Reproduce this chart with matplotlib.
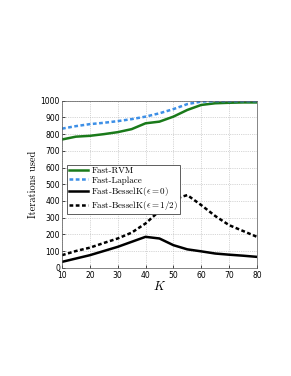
import matplotlib
matplotlib.use("Agg")
from matplotlib import pyplot as plt

plt.rcParams['mathtext.fontset'] = 'cm'

K = [10, 15, 20, 25, 30, 35, 40, 45, 50, 55, 60, 65, 70, 75, 80]
rvm = [768, 785, 790, 800, 812, 830, 865, 875, 905, 945, 975, 985, 988, 990, 990]
laplace = [833, 848, 860, 868, 878, 890, 905, 925, 950, 980, 995, 998, 998, 998, 998]
bessel0 = [35, 55, 75, 100, 125, 155, 185, 175, 135, 110, 98, 85, 78, 72, 65]
bessel_half = [75, 100, 120, 148, 175, 210, 265, 340, 410, 435, 375, 310, 255, 220, 185]

fig = plt.figure(figsize=(2.91, 3.76), dpi=100)
ax = fig.add_axes([0.213, 0.288, 0.67, 0.444])

ax.plot(K, rvm, color='#1a7a1a', lw=1.8, label='Fast-RVM')
ax.plot(K, laplace, color='#3d8fe6', lw=1.8, ls=(0, (1.5, 1)), label='Fast-Laplace')
ax.plot(K, bessel0, color='black', lw=1.8, label=r'Fast-BesselK$(\epsilon=0)$')
ax.plot(K, bessel_half, color='black', lw=1.8, ls=(0, (1.5, 1)),
        label=r'Fast-BesselK$(\epsilon=1/2)$')

ax.set_xlim(10, 80)
ax.set_ylim(0, 1000)
ax.set_xticks(range(10, 81, 10))
ax.set_yticks(range(0, 1001, 100))
ax.tick_params(labelsize=5.5, length=2, width=0.5, direction='in')
ax.tick_params(axis='x', pad=2.5)
ax.tick_params(axis='y', pad=1.5)
ax.grid(True, ls=':', lw=0.5, color='#b0b0b0')
for s in ax.spines.values():
    s.set_linewidth(0.5)
    s.set_color('#555555')

ax.set_xlabel(r'$K$', fontsize=9, labelpad=0)
ax.set_ylabel('Iterations used', fontsize=7.5, family='cmr10', labelpad=2)

leg = ax.legend(loc='upper left', bbox_to_anchor=(0.026, 0.615),
                prop={'family': 'cmr10', 'size': 6.5},
                handlelength=2.1, handletextpad=0.4, borderpad=0.2,
                labelspacing=0.1, fancybox=False, framealpha=1, borderaxespad=0)
leg.get_frame().set_linewidth(0.6)
leg.get_frame().set_edgecolor('#444444')

plt.savefig("out.png", dpi=100)
